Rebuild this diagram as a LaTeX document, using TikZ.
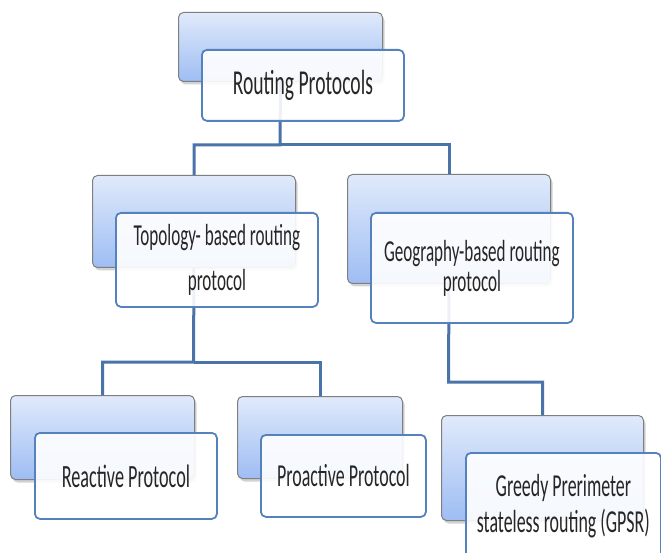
\documentclass[tikz,border=0pt]{standalone}
\usepackage{fontspec}
\newfontfamily\boxfont{Carlito}[FakeStretch=0.56]
\usetikzlibrary{shadows}
\definecolor{backtop}{HTML}{E0EAFB}
\definecolor{backbot}{HTML}{9EBDF3}
\definecolor{backline}{HTML}{7F7F7F}
\definecolor{frontline}{HTML}{5581BD}
\definecolor{conn}{HTML}{4A73A9}
\definecolor{txt}{HTML}{262626}
\begin{document}
\begin{tikzpicture}[x=1pt,y=-1pt,
  backbox/.style={draw=backline, line width=1pt, rounded corners=5pt,
    top color=backtop, bottom color=backbot, anchor=north west, inner sep=0pt,
    drop shadow={shadow xshift=2pt,shadow yshift=-3pt,opacity=0.35}},
  frontbox/.style={draw=frontline, line width=1.8pt, rounded corners=5pt,
    fill=white, fill opacity=0.9, text opacity=1, anchor=north west,
    inner sep=0pt, align=center, text=txt},
  link/.style={draw=conn, line width=3pt}]
\useasboundingbox (0,0) rectangle (661,553);
\clip (0,0) rectangle (661,553);
\fill[white] (0,0) rectangle (661,553);

% back boxes
\node[backbox, minimum width=204pt, minimum height=69pt] (rpb) at (178,12) {};
\node[backbox, minimum width=203pt, minimum height=92pt] (topb) at (92,175) {};
\node[backbox, minimum width=203pt, minimum height=109pt] (geob) at (347,174) {};
\node[backbox, minimum width=184pt, minimum height=84pt] (reab) at (10,395) {};
\node[backbox, minimum width=165pt, minimum height=82pt] (prob) at (237,396) {};
\node[backbox, minimum width=202pt, minimum height=105pt] (gpsb) at (441,415) {};

% connectors
\coordinate (j1) at (280,145);
\coordinate (j2) at (193.5,362);
\coordinate (j3) at (448.5,382);
\draw[link] (rpb.south) -- (j1) -| (topb.north);
\draw[link] (j1) -| (geob.north);
\draw[link] (topb.south) -- (j2) -| (reab.north);
\draw[link] (j2) -| (prob.north);
\draw[link] (geob.south) -- (j3) -| (gpsb.north);

% front boxes
\node[frontbox, minimum width=202pt, minimum height=71pt,
  font=\boxfont\fontsize{35}{40}\selectfont] (rpf) at (201,49) {Routing Protocols};
\node[frontbox, minimum width=202pt, minimum height=94pt,
  font=\boxfont\fontsize{30.5}{45}\selectfont] (topf) at (115,212) {Topology- based routing\\protocol};
\node[frontbox, minimum width=202pt, minimum height=110pt,
  font=\boxfont\fontsize{30.5}{30}\selectfont] (geof) at (370,212) {Geography-based routing\\protocol};
\node[frontbox, minimum width=182pt, minimum height=86pt,
  font=\boxfont\fontsize{32.5}{40}\selectfont] (reaf) at (34,432) {Reactive Protocol};
\node[frontbox, minimum width=165pt, minimum height=82pt,
  font=\boxfont\fontsize{32}{40}\selectfont] (prof) at (260,434) {Proactive Protocol};
\node[frontbox, minimum width=195pt, minimum height=106pt,
  font=\boxfont\fontsize{32}{36}\selectfont] (gpsf) at (465,452) {Greedy Prerimeter\\stateless routing (GPSR)};
\end{tikzpicture}
\end{document}
